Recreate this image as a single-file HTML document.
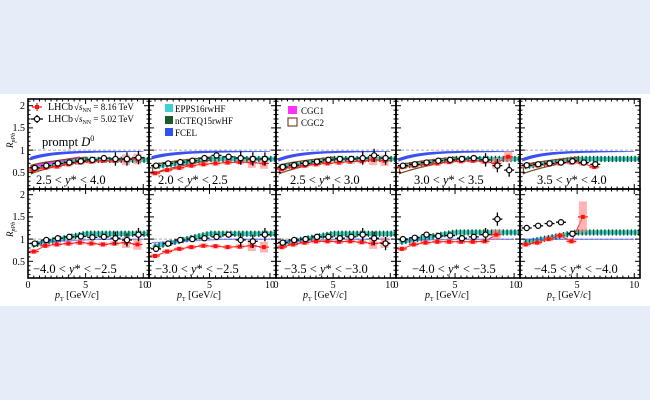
<!DOCTYPE html>
<html><head><meta charset="utf-8"><style>
html,body{margin:0;padding:0;background:#e7edf8;}
svg{display:block;font-family:"Liberation Serif",serif;}
</style></head><body>
<svg id="s" width="650" height="400" viewBox="0 0 650 400" xmlns="http://www.w3.org/2000/svg">
<rect x="0" y="0" width="650" height="400" fill="#e7edf8"/>
<rect x="0" y="94" width="650" height="212" fill="#ffffff"/>
<g id="data"></g>
<g font-size="10" fill="#000">
<text x="25" y="109" text-anchor="end">2</text>
<text x="25" y="131" text-anchor="end">1.5</text>
<text x="25" y="154" text-anchor="end">1</text>
<text x="25" y="176" text-anchor="end">0.5</text>
<text x="25" y="198" text-anchor="end">2</text>
<text x="25" y="220" text-anchor="end">1.5</text>
<text x="25" y="243" text-anchor="end">1</text>
<text x="25" y="265" text-anchor="end">0.5</text>
<text transform="translate(13,148) rotate(-90)" font-size="9" font-style="italic">R<tspan font-size="6" dy="2">pPb</tspan></text>
<text transform="translate(13,237) rotate(-90)" font-size="9" font-style="italic">R<tspan font-size="6" dy="2">pPb</tspan></text>
</g>
<g font-size="10">
<text x="48" y="110">LHCb</text><text x="74" y="110" font-size="9">√<tspan font-style="italic">s</tspan><tspan font-size="6" dy="2">NN</tspan><tspan dy="-2"> = 8.16 TeV</tspan></text>
<text x="48" y="122">LHCb</text><text x="74" y="122" font-size="9">√<tspan font-style="italic">s</tspan><tspan font-size="6" dy="2">NN</tspan><tspan dy="-2"> = 5.02 TeV</tspan></text>
<text x="42" y="146" font-size="12.5">prompt <tspan font-style="italic">D</tspan><tspan font-size="8" dy="-5">0</tspan></text>
<rect x="165" y="104" width="8" height="8" fill="#40d0d0"/>
<text x="175" y="112" font-size="9">EPPS16rwHF</text>
<rect x="165" y="116" width="8" height="8" fill="#1a5a2a"/>
<text x="175" y="124" font-size="9">nCTEQ15rwHF</text>
<rect x="165" y="128" width="8" height="8" fill="#3050f0"/>
<text x="175" y="136" font-size="9">FCEL</text>
<rect x="288" y="106" width="9" height="8" fill="#ff30ff"/>
<text x="301" y="114" font-size="9">CGC1</text>
<rect x="288" y="118" width="9" height="8" fill="#fff" stroke="#7a4a20" stroke-width="1.2"/>
<text x="301" y="126" font-size="9">CGC2</text>
</g>
<g font-size="12.5">
<text x="36" y="184">2.5 &lt;  <tspan font-style="italic">y</tspan>* &lt; 4.0</text>
<text x="158" y="184">2.0 &lt;  <tspan font-style="italic">y</tspan>* &lt; 2.5</text>
<text x="290" y="184">2.5 &lt;  <tspan font-style="italic">y</tspan>* &lt; 3.0</text>
<text x="414" y="184">3.0 &lt;  <tspan font-style="italic">y</tspan>* &lt; 3.5</text>
<text x="537" y="184">3.5 &lt;  <tspan font-style="italic">y</tspan>* &lt; 4.0</text>
<text x="33" y="273">−4.0 &lt;  <tspan font-style="italic">y</tspan>* &lt;  −2.5</text>
<text x="155" y="273">−3.0 &lt;  <tspan font-style="italic">y</tspan>* &lt;  −2.5</text>
<text x="284" y="273">−3.5 &lt;  <tspan font-style="italic">y</tspan>* &lt;  −3.0</text>
<text x="412" y="273">−4.0 &lt;  <tspan font-style="italic">y</tspan>* &lt;  −3.5</text>
<text x="534" y="273">−4.5 &lt;  <tspan font-style="italic">y</tspan>* &lt;  −4.0</text>
</g>
<g id="ax"></g>
</svg>
<script>
(function(){
var X=[28,149,276,396,520,640];
var NS="http://www.w3.org/2000/svg";
var D=document.getElementById("data"),A=document.getElementById("ax");
function el(p,t,a){var e=document.createElementNS(NS,t);for(var k in a)e.setAttribute(k,a[k]);p.appendChild(e);return e;}
function yv(v,r){return 105.7+(2-v)*44.4+r*89;}
function xv(i,x){return X[i]+x/10.5*(X[i+1]-X[i]);}
var tp=[
 {r:[.55,.6,.63,.68,.72,.74,.76,.76,.78,.8],b:[.6,.65,.7,.72,.75,.78,.82,.8,.8,.83],cgc1:1,cgc2:1,e0:.6,e1:.78,f0:.78},
 {r:[.48,.55,.6,.65,.68,.7,.72,.73,.72,.7],b:[.65,.7,.73,.76,.82,.88,.85,.82,.8,.8],cgc2:1,e0:.62,e1:.8,f0:.8},
 {r:[.57,.62,.65,.68,.7,.72,.74,.75,.78,.76],b:[.62,.66,.7,.74,.78,.8,.8,.82,.88,.82],cgc2:1,e0:.6,e1:.8,f0:.75},
 {r:[.62,.65,.68,.7,.73,.75,.76,.74,.7,.85],b:[.65,.68,.72,.76,.78,.8,.82,.78,.65,.55],cgc2:1,e0:.62,e1:.8,f0:.75},
 {r:[.65,.66,.68,.7,.72,.7,.62],b:[.66,.68,.7,.72,.75,.72,.68],cgc2:1,e0:.62,e1:.8,f0:.75}];
var bt=[
 {r:[.72,.85,.88,.9,.92,.9,.88,.9,.92,.88],b:[.9,.98,1.02,1.05,1.06,1.04,1.05,1.02,.98,1.1],e0:.85,e1:1.12,f0:.92},
 {r:[.62,.72,.78,.82,.85,.84,.82,.83,.85,.82],b:[.78,.9,.98,1.0,1.02,1.05,1.1,.98,.95,1.1],e0:.8,e1:1.12,f0:.92},
 {r:[.82,.88,.92,.95,.95,.94,.95,.93,.9,.92],b:[.92,.98,1.0,1.05,1.05,1.02,1.05,1.1,1.02,.9],e0:.88,e1:1.12,f0:.95},
 {r:[.78,.88,.92,.94,.94,.94,.94,.95,1.1],b:[1.0,1.03,1.1,1.07,1.08,1.02,1.05,1.1,1.45],e0:.92,e1:1.15,f0:.98},
 {r:[.88,.92,1.0,1.08,.95,1.5],b:[1.25,1.3,1.35,1.38,1.12],e0:.9,e1:1.15,f0:1.0}];
function band(i,r,lo,hi,fill,op,x0,x1){var pts=[],n=30,k,x;for(k=0;k<=n;k++){x=x0+(x1-x0)*k/n;pts.push(xv(i,x)+","+yv(hi(x),r));}for(k=n;k>=0;k--){x=x0+(x1-x0)*k/n;pts.push(xv(i,x)+","+yv(lo(x),r));}el(D,"polygon",{points:pts.join(" "),fill:fill,"fill-opacity":op});}
function panel(i,r,p){
 var y0=r?189:99,y1=r?278:189;
 el(D,"line",{x1:X[i],x2:X[i+1],y1:yv(1,r),y2:yv(1,r),stroke:"#aaa","stroke-dasharray":"3,2","stroke-width":1});
 var e=function(x){return p.e0+(p.e1-p.e0)*Math.min(1,x/5);};
 band(i,r,function(x){return e(x)-.05},function(x){return e(x)+.05},"#30c8c8",0.9,0.3,10.5);
 for(var x=0.5;x<10.5;x+=0.33){var v=e(x);el(D,"line",{x1:xv(i,x),x2:xv(i,x),y1:yv(v+.07,r),y2:yv(v-.07,r),stroke:"#0e4a22","stroke-width":1.3});}
 var f=function(x){return r? p.f0+(1.0-p.f0)*Math.min(1,x/6): p.f0+(0.97-p.f0)*(1-Math.exp(-x/2));};
 band(i,r,function(x){return f(x)-(r?.01:.02*(1-x/10))-0.01},function(x){return f(x)+(r?.01:.05*(1-x/11))},"#3a50f0",r?0.6:1,0.2,10);
 if(p.cgc1)band(i,r,function(x){return .6+.22*x/4.5},function(x){return .66+.2*x/4.5},"#ff30ff",1,0.2,4.5);
 if(p.cgc2){var pts=[],k,xx;var hi=function(x){return .62+.22*Math.pow(x/5,.6)},lo=function(x){return .42+.35*Math.pow(x/5,.7)};
  for(k=0;k<=20;k++){xx=0.3+4.7*k/20;pts.push(xv(i,xx)+","+yv(hi(xx),r));}for(k=20;k>=0;k--){xx=0.3+4.7*k/20;pts.push(xv(i,xx)+","+yv(lo(xx),r));}
  el(D,"polygon",{points:pts.join(" "),fill:"none",stroke:"#7a4a20","stroke-width":1.2});}
 var rl=[];p.r.forEach(function(v,k){rl.push(xv(i,k+.5)+","+yv(v,r));});
 el(D,"polyline",{points:rl.join(" "),fill:"none",stroke:"#ff2020","stroke-width":1});
 p.r.forEach(function(v,k){var x=xv(i,k+.5),y=yv(v,r),er=(k>7?.12:.05)+(v>1.2?.3:0);
  el(D,"rect",{x:x-4,y:yv(v+er,r),width:8,height:yv(v-er,r)-yv(v+er,r),fill:"#ff8080","fill-opacity":.6});
  el(D,"line",{x1:x-5,x2:x+5,y1:y,y2:y,stroke:"#ff2020","stroke-width":1.2});
  el(D,"rect",{x:x-2,y:y-2,width:4,height:4,fill:"#ff1010"});});
 p.b.forEach(function(v,k){var x=xv(i,k+.5)+1,y=yv(v,r),er=k>6?.15:.04;
  el(D,"line",{x1:x-5,x2:x+5,y1:y,y2:y,stroke:"#000","stroke-width":1.3});
  el(D,"line",{x1:x,x2:x,y1:yv(v+er,r),y2:yv(v-er,r),stroke:"#000","stroke-width":1.3});
  el(D,"circle",{cx:x,cy:y,r:2.6,fill:"#fff",stroke:"#000","stroke-width":1.2});});
 el(A,"rect",{x:X[i],y:y0,width:X[i+1]-X[i],height:y1-y0,fill:"none",stroke:"#000","stroke-width":1.6});
 for(var t=0;t<=10.5;t+=0.5){var tx=xv(i,t),L=(t%5==0)?5:2.5;el(A,"line",{x1:tx,x2:tx,y1:y1,y2:y1-L,stroke:"#000","stroke-width":1});el(A,"line",{x1:tx,x2:tx,y1:y0,y2:y0+L,stroke:"#000","stroke-width":1});}
 for(var vv=0.2;vv<2.15;vv+=0.1){var yy=yv(vv,r);var L2=(Math.abs(vv*2-Math.round(vv*2))<.01)?5:2.5;el(A,"line",{x1:X[i],x2:X[i]+L2,y1:yy,y2:yy,stroke:"#000","stroke-width":1});el(A,"line",{x1:X[i+1],x2:X[i+1]-L2,y1:yy,y2:yy,stroke:"#000","stroke-width":1});}
}
for(var i=0;i<5;i++){panel(i,0,tp[i]);panel(i,1,bt[i]);}
el(A,"line",{x1:32,x2:42,y1:107,y2:107,stroke:"#ff2020","stroke-width":1.3});el(A,"line",{x1:37,x2:37,y1:103,y2:111,stroke:"#ff2020","stroke-width":1.3});el(A,"rect",{x:35,y:105,width:4,height:4,fill:"#ff1010"});
el(A,"line",{x1:31,x2:43,y1:119,y2:119,stroke:"#000","stroke-width":1.3});el(A,"line",{x1:37,x2:37,y1:115,y2:123,stroke:"#000","stroke-width":1.3});el(A,"circle",{cx:37,cy:119,r:2.6,fill:"#fff",stroke:"#000","stroke-width":1.2});
for(var j=0;j<5;j++){[[0,"0"],[5,"5"],[10,"10"]].forEach(function(a){var t=el(A,"text",{x:xv(j,a[0]),y:288,"font-size":10,"text-anchor":"middle"});t.textContent=a[1];});}
})();
</script>
<div style="position:absolute;left:0;top:0;width:650px;height:400px;pointer-events:none;font-family:'Liberation Serif',serif;">
<div style="position:absolute;top:290px;left:55px;font-size:10px;"><i>p</i><sub style="font-size:6px">T</sub> [GeV/<i>c</i>]</div>
<div style="position:absolute;top:290px;left:177px;font-size:10px;"><i>p</i><sub style="font-size:6px">T</sub> [GeV/<i>c</i>]</div>
<div style="position:absolute;top:290px;left:303px;font-size:10px;"><i>p</i><sub style="font-size:6px">T</sub> [GeV/<i>c</i>]</div>
<div style="position:absolute;top:290px;left:425px;font-size:10px;"><i>p</i><sub style="font-size:6px">T</sub> [GeV/<i>c</i>]</div>
<div style="position:absolute;top:290px;left:547px;font-size:10px;"><i>p</i><sub style="font-size:6px">T</sub> [GeV/<i>c</i>]</div>
</div>
</body></html>
